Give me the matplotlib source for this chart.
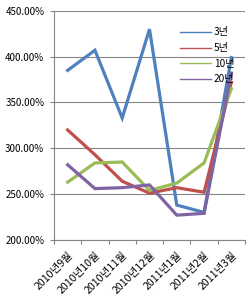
import matplotlib
matplotlib.use("Agg")
import matplotlib.pyplot as plt
from matplotlib.ticker import FixedLocator, PercentFormatter

plt.rcParams['font.family'] = ['Noto Sans CJK KR', 'DejaVu Sans']

categories = ["2010년9월", "2010년10월", "2010년11월", "2010년12월", "2011년1월", "2011년2월", "2011년3월"]
series_names = ["3년", "5년", "10년", "20년"]
y3 = [385, 407, 333, 430, 238, 230, 399]
y5 = [320, 293, 264, 251, 257, 252, 372]
y10 = [263, 284, 285, 254, 262, 284, 365]
y20 = [282, 256, 257, 260, 227, 229, 382]
colors = ["#4F81BD", "#C0504D", "#9BBB59", "#8064A2"]
yticks = [200, 250, 300, 350, 400, 450]

fig = plt.figure(figsize=(2.50, 3.01), dpi=100)
ax = fig.add_axes([0.216, 0.203, 0.764, 0.761])

x = list(range(len(categories)))
for name, vals, c in zip(series_names, [y3, y5, y10, y20], colors):
    ax.plot(x, vals, color=c, lw=2.3, label=name, solid_joinstyle='miter')

ax.set_xlim(-0.5, len(categories) - 0.5)
ax.set_ylim(200, 450)
ax.set_yticks(yticks)
ax.yaxis.set_major_formatter(PercentFormatter(decimals=2))
ax.grid(axis='y', color='#868686', lw=0.8)
ax.set_axisbelow(True)

ax.set_xticks(x)
ax.set_xticklabels(categories, rotation=45, ha='right', va='top', rotation_mode='anchor', fontsize=7.6)
ax.tick_params(axis='x', which='major', length=0, pad=7)
ax.xaxis.set_minor_locator(FixedLocator([i - 0.5 for i in range(len(categories) + 1)]))
ax.tick_params(axis='x', which='minor', length=3, color='#868686', width=0.8)
ax.tick_params(axis='y', length=3, color='#868686', width=0.8, labelsize=7, pad=4)

for s in ['top', 'right']:
    ax.spines[s].set_visible(False)
for s in ['left', 'bottom']:
    ax.spines[s].set_color('#868686')
    ax.spines[s].set_linewidth(0.8)

leg = ax.legend(loc='upper left', bbox_to_anchor=(0.64, 0.945), frameon=False, fontsize=7.3,
                handlelength=3.0, handletextpad=0.3, labelspacing=0.55, borderaxespad=0)
for h in leg.get_lines():
    h.set_linewidth(1.0)

fig.savefig("out.png", dpi=100)
